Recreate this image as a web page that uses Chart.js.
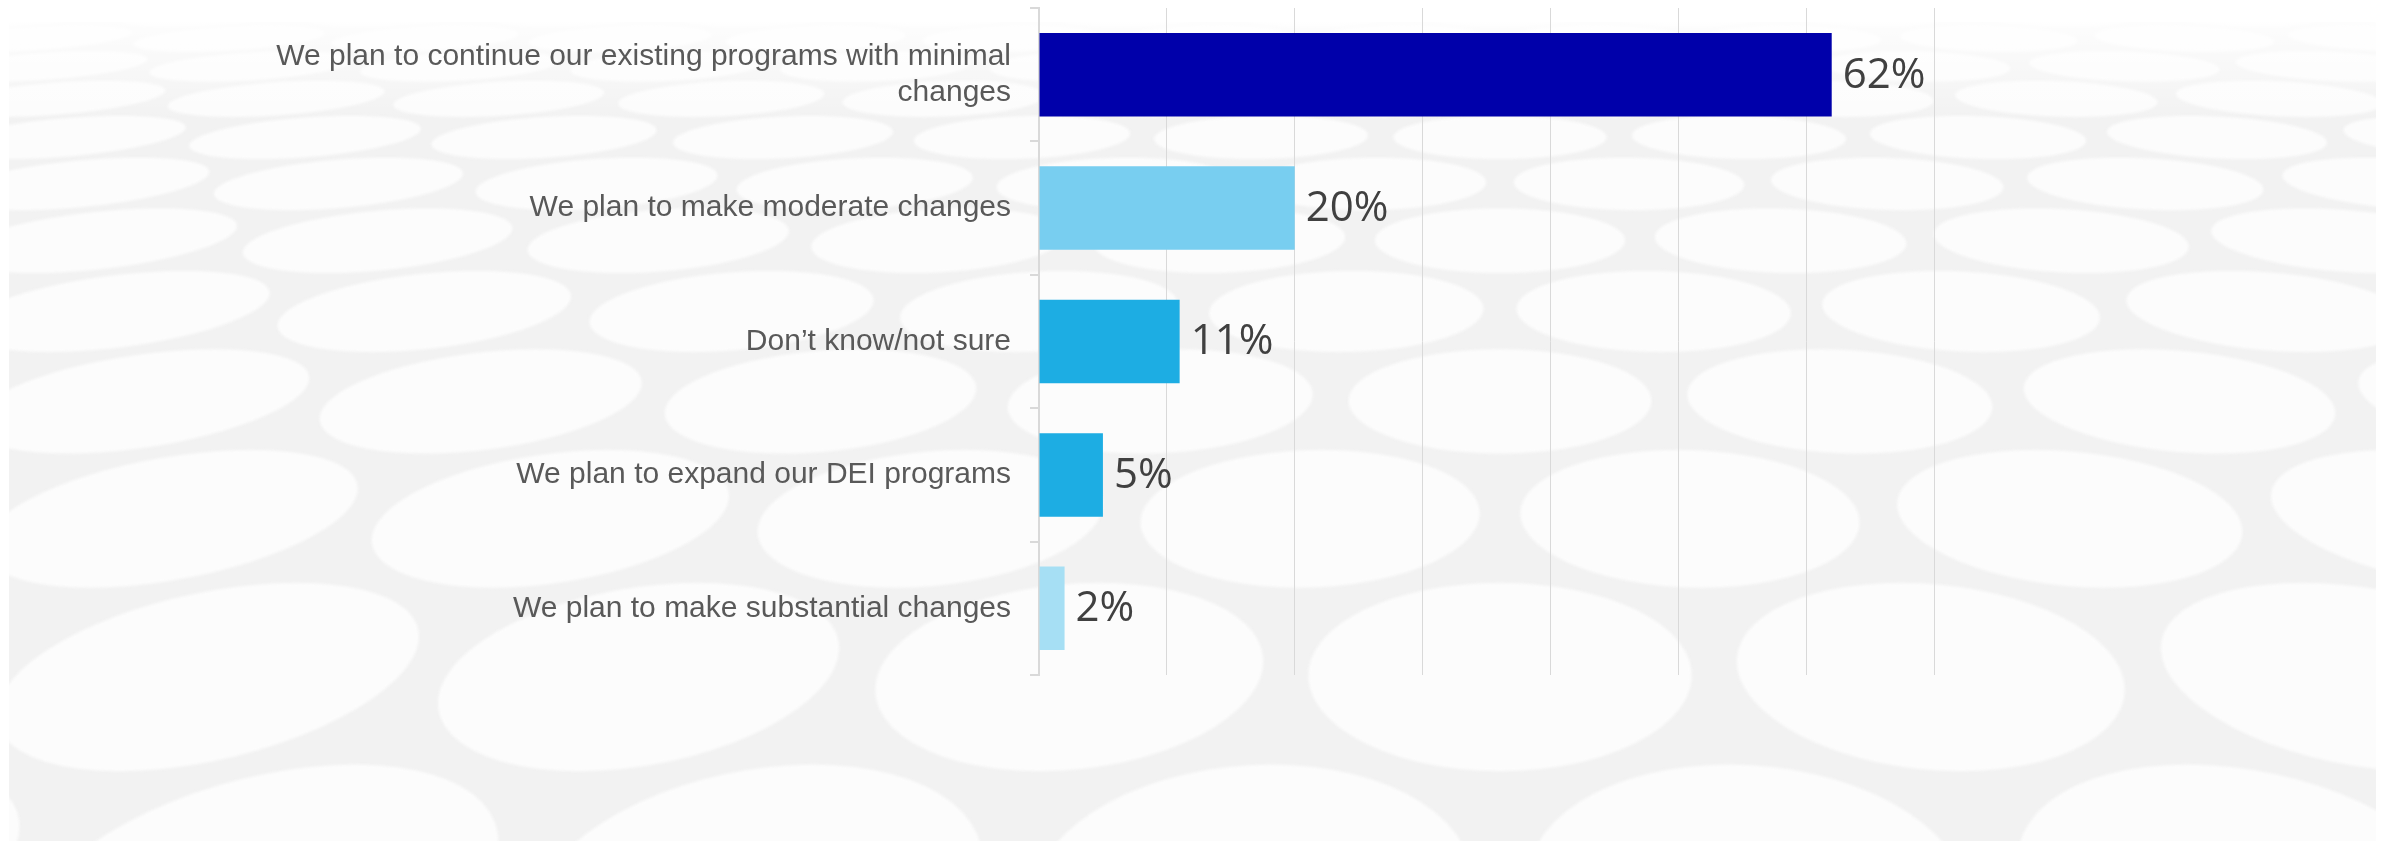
<!DOCTYPE html>
<html>
<head>
<meta charset="utf-8">
<script src="https://cdn.jsdelivr.net/npm/chart.js@4"></script>
<style>
  html, body { margin: 0; padding: 0; background: #ffffff; }
  #wrap { width: 2386px; height: 841px; position: relative; }
  canvas { display: block; }
</style>
</head>
<body>
<div id="wrap"><canvas id="chart" width="2386" height="841"></canvas></div>
<script>
// Survey responses: plans for DEI programs
const categories = [
  ["We plan to continue our existing programs with minimal", "changes"],
  "We plan to make moderate changes",
  "Don\u2019t know/not sure",
  "We plan to expand our DEI programs",
  "We plan to make substantial changes"
];
const shares = [62, 20, 11, 5, 2];
const barColors = ["#0000AA", "#78CEF0", "#1DADE3", "#1DADE3", "#A6DFF4"];
const axisMin = 0;
const axisMax = 70;
const axisStep = 10;

// Backdrop: a field of pale discs receding towards the top
const backdrop = {
  id: "backdrop",
  beforeDraw(chart) {
    const { ctx, width, height } = chart;
    ctx.save();
    ctx.fillStyle = "#ffffff";
    ctx.fillRect(0, 0, width, height);
    const left = 9, top = 22, right = 2376;
    ctx.beginPath();
    ctx.rect(left, top, right - left, height - top);
    ctx.clip();
    ctx.fillStyle = "#f2f2f2";
    ctx.fillRect(left, top, right - left, height - top);

    const A = 339, HY = -242, F = 2797, CX = 1500, R = 0.0354;
    const DX = 2 * R * 1.12, DZ = DX * 0.866;
    const project = (x, z) => [CX + F * x / z, HY + A / Math.pow(z, 1.5)];
    ctx.filter = "blur(1.5px)";
    ctx.fillStyle = "#fcfcfc";
    for (let j = 0; j < 14; j++) {
      const Z = 0.38 + j * DZ;
      const shift = (j % 2) * DX / 2;
      for (let i = -120; i <= 120; i++) {
        const X = i * DX + shift;
        const sx = CX + F * X / Z;
        if (sx < -700 || sx > 3100) continue;
        ctx.beginPath();
        for (let k = 0; k <= 60; k++) {
          const a = k / 60 * Math.PI * 2;
          const p = project(X + R * Math.cos(a), Z + R * Math.sin(a));
          if (k === 0) ctx.moveTo(p[0], p[1]); else ctx.lineTo(p[0], p[1]);
        }
        ctx.closePath();
        ctx.fill();
      }
    }
    ctx.filter = "none";
    const fade = ctx.createLinearGradient(0, top, 0, 120);
    fade.addColorStop(0, "rgba(255,255,255,0.85)");
    fade.addColorStop(1, "rgba(255,255,255,0)");
    ctx.fillStyle = fade;
    ctx.fillRect(left, top, right - left, 120 - top);
    ctx.restore();
  }
};

// Value labels at the end of each bar
const valueLabels = {
  id: "valueLabels",
  afterDatasetsDraw(chart) {
    const { ctx } = chart;
    const meta = chart.getDatasetMeta(0);
    ctx.save();
    ctx.fillStyle = "#404040";
    ctx.font = "42px 'Open Sans'";
    ctx.textAlign = "left";
    ctx.textBaseline = "middle";
    meta.data.forEach((bar, i) => {
      ctx.fillText(shares[i] + "%", bar.x + 11, bar.y + 1);
    });
    ctx.restore();
  }
};

new Chart(document.getElementById("chart"), {
  type: "bar",
  data: {
    labels: categories,
    datasets: [{
      data: shares,
      backgroundColor: barColors,
      borderWidth: 0,
      categoryPercentage: 1,
      barPercentage: 0.626
    }]
  },
  options: {
    indexAxis: "y",
    responsive: false,
    animation: false,
    devicePixelRatio: 1,
    layout: { padding: { top: 8, bottom: 166, left: 0, right: 452 } },
    plugins: { legend: { display: false }, tooltip: { enabled: false } },
    scales: {
      x: {
        min: axisMin,
        max: axisMax,
        ticks: { display: false, stepSize: axisStep },
        grid: { color: "#d9d9d9", lineWidth: 1, drawTicks: false },
        border: { display: false },
        afterFit(scale) { scale.height = 0; scale.paddingLeft = 0; scale.paddingRight = 0; }
      },
      y: {
        ticks: {
          color: "#595959",
          font: { family: "'Liberation Sans', Arial, sans-serif", size: 30, lineHeight: 1.23 },
          padding: 19
        },
        grid: { display: true, drawOnChartArea: false, drawTicks: true, tickLength: 9, color: "#d9d9d9", lineWidth: 2 },
        border: { display: true, color: "#d9d9d9", width: 2 },
        afterFit(scale) { scale.width = 1039; scale.paddingTop = 0; scale.paddingBottom = 0; }
      }
    }
  },
  plugins: [backdrop, valueLabels]
});
</script>
</body>
</html>
